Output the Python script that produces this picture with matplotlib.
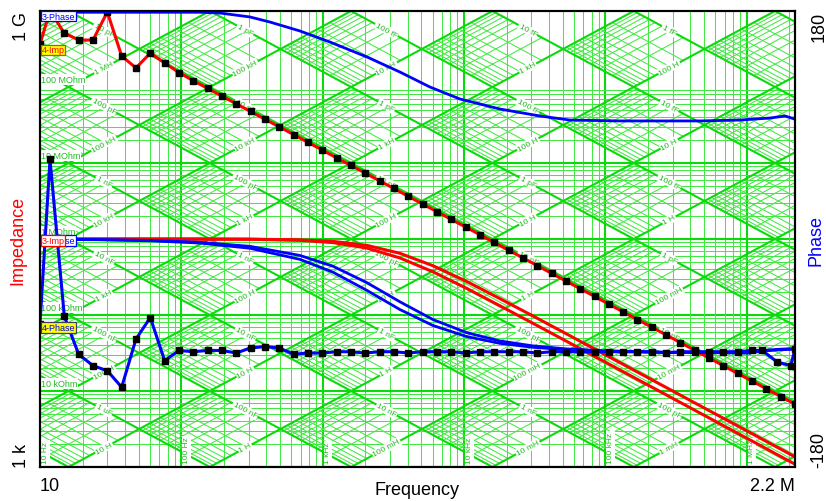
import numpy as np
import matplotlib
matplotlib.use("Agg")
import matplotlib.pyplot as plt
from matplotlib.collections import LineCollection

plt.rcParams['font.family'] = ['Liberation Sans', 'DejaVu Sans']

# ---------------- data ----------------
imp4_freq = [10, 11.77, 14.86, 18.77, 23.71, 29.95, 37.83, 47.77, 60.33, 76.19, 96.23,
             121.5, 153.5, 193.9, 244.8, 309.2, 390.5, 493.2, 622.9, 786.7, 993.6,
             1255, 1585, 2002, 2528, 3193, 4033, 5093, 6433, 8124, 10260,
             12960, 16370, 20670, 26110, 32970, 41640, 52590, 66420, 83890, 105900,
             133800, 169000, 213400, 269500, 340400, 429900, 542900, 685700, 866000, 1094000,
             1381000, 1745000, 2203000]
imp4_ohm = [368e6, 1.0e9, 514e6, 415e6, 415e6, 970e6, 256e6, 178e6, 280e6, 207e6, 155e6,
            121e6, 96e6, 76e6, 60e6, 47.7e6, 37.7e6, 29.9e6, 23.7e6, 18.7e6, 14.8e6,
            11.7e6, 9.3e6, 7.36e6, 5.83e6, 4.62e6, 3.65e6, 2.89e6, 2.29e6, 1.81e6, 1.44e6,
            1.14e6, 900e3, 713e3, 565e3, 447e3, 354e3, 280e3, 222e3, 176e3, 139e3,
            110e3, 87.2e3, 69.1e3, 54.7e3, 43.3e3, 34.3e3, 27.2e3, 21.5e3, 17.0e3, 13.5e3,
            10.7e3, 8.45e3, 6.7e3]

phase4_freq = [10, 11.77, 14.86, 18.77, 23.71, 29.95, 37.83, 47.77, 60.33, 76.19, 96.23,
               121.5, 153.5, 193.9, 244.8, 309.2, 390.5, 493.2, 622.9, 786.7, 993.6,
               1255, 1585, 2002, 2528, 3193, 4033, 5093, 6433, 8124, 10260,
               12960, 16370, 20670, 26110, 32970, 41640, 52590, 66420, 83890, 105900,
               133800, 169000, 213400, 269500, 340400, 429900, 542900, 685700, 866000, 1094000,
               1290000, 1640000, 2050000, 2200000]
phase4_deg = [-67, 63, -61, -91, -100, -104, -117, -79, -62, -96, -88,
              -89, -88, -88, -90, -86, -85, -86, -91, -90, -90,
              -89, -89, -90, -89, -89, -90, -89, -89, -89, -90,
              -89, -89, -89, -89, -90, -89, -89, -89, -89, -89,
              -89, -89, -89, -90, -89, -89, -89, -89, -89, -88,
              -88, -97, -100, -87]

pair_freq = [10, 26.6, 60, 135.5, 306, 692, 1183, 2060, 3524, 6036, 10500, 17990,
             30770, 53550, 91650, 207000, 467700, 1057000, 1285000, 1722000, 2200000]
imp1_ohm = [1.0e6, 1.0e6, 1.0e6, 0.998e6, 0.992e6, 0.961e6, 0.897e6, 0.759e6, 0.563e6,
            0.370e6, 0.223e6, 0.132e6, 77.8e3, 44.8e3, 26.2e3, 11.6e3, 5.13e3, 2.27e3,
            1.87e3, 1.39e3, 1.09e3]
imp3_ohm = [1.0e6, 1.0e6, 1.0e6, 0.999e6, 0.995e6, 0.974e6, 0.930e6, 0.824e6, 0.648e6,
            0.445e6, 0.275e6, 0.164e6, 97.1e3, 56.0e3, 32.7e3, 14.5e3, 6.41e3, 2.84e3,
            2.33e3, 1.74e3, 1.36e3]
phase1_deg = [-0.2, -0.6, -1.4, -3.2, -7.3, -16.1, -26.2, -40.6, -55.7, -68.3, -77.1,
              -82.4, -85.5, -87.4, -88.5, -89.3, -89.7, -89.9, -88.5, -87.5, -87.0]
phase2_deg = [-0.2, -0.5, -1.1, -2.6, -5.8, -13.0, -21.5, -34.5, -49.6, -63.6, -74.0,
              -80.5, -84.4, -86.8, -88.1, -89.2, -89.6, -89.9, -88.0, -87.0, -86.5]

phase3_freq = [10, 60, 135.5, 187.7, 306, 423.6, 692, 1127, 2060, 3524, 5741, 9376,
               17990, 34510, 56230, 127000, 467700, 897000, 1462000, 1866000, 2200000]
phase3_deg = [179, 179, 179, 178.4, 175.3, 171.3, 164.2, 155.5, 143.7, 131.8, 120,
              110.5, 102.6, 97.1, 93.9, 93.2, 93.2, 93.9, 95.5, 97.1, 94.7]

curve_labels = ['3-Phase', '4-Imp', '2-Phase', '3-Imp', '4-Phase']
freq_range = (10, 2.2e6)
imp_range = (1e3, 1e9)
phase_range = (-180, 180)

# ---------------- figure ----------------
W, H = 826, 502
fig = plt.figure(figsize=(W / 100, H / 100), dpi=100)
L0, B0, PW, PH = 40, 34, 755, 456
ax = fig.add_axes([L0 / W, B0 / H, PW / W, PH / H])
ax.set_xscale('log')
ax.set_yscale('log')
ax.set_xlim(*freq_range)
ax.set_ylim(*imp_range)
ax.set_facecolor('white')

GMAJ = '#0ada0a'
GMIN = '#44e844'
GTXT = '#22bb22'
TWO_PI = 2 * np.pi
LTP = np.log10(TWO_PI)

# frequency / impedance grid
for k in range(0, 8):
    for m in range(1, 10):
        v = m * 10.0 ** k
        if freq_range[0] <= v <= freq_range[1]:
            ax.axvline(v, color=GMAJ if m == 1 else GMIN,
                       lw=1.5 if m == 1 else 0.75, zorder=1)
        if imp_range[0] <= v <= imp_range[1]:
            ax.axhline(v, color=GMAJ if m == 1 else GMIN,
                       lw=1.5 if m == 1 else 0.75, zorder=1)

fl = np.array(freq_range)
# major capacitance and inductance diagonals
for e in range(-19, 10):
    if e <= -3:
        ax.plot(fl, 1 / (TWO_PI * fl * 10.0 ** e), color=GMAJ, lw=1.5, zorder=1.5)
    if e >= -6:
        ax.plot(fl, TWO_PI * fl * 10.0 ** e, color=GMAJ, lw=1.5, zorder=1.5)


def cross(logc, logl):
    """frequency and impedance where a C line meets an L line"""
    u = -LTP - (logc + logl) / 2
    v = (logl - logc) / 2
    return 10 ** u, 10 ** v


# minor diagonals, drawn in alternate diamond cells
segs = []
for a in range(-19, -3):
    for b in range(-7, 10):
        if (a + b) % 2 == 0:
            continue
        for m in range(2, 10):
            lm = np.log10(m)
            segs.append([cross(a + lm, b), cross(a + lm, b + 1)])
            segs.append([cross(a, b + lm), cross(a + 1, b + lm)])
ax.add_collection(LineCollection(segs, colors=GMIN, linewidths=0.75, zorder=1.2))
ax.set_xlim(*freq_range)
ax.set_ylim(*imp_range)


def si(v, unit):
    pref = {-18: 'a', -15: 'f', -12: 'p', -9: 'n', -6: 'u', -3: 'm', 0: '', 3: 'k', 6: 'M', 9: 'G'}
    e = int(np.floor(np.log10(v) + 1e-9))
    e3 = 3 * int(np.floor(e / 3))
    return f"{int(round(v / 10.0 ** e3))} {pref[e3]}{unit}"


LOGSPAN = np.log10(freq_range[1] / freq_range[0])


def to_px(u, v):
    return (u - 1) / LOGSPAN * PW, (v - 3) / 6 * PH


def place(u1, v1, u2, v2):
    for t in [0.5, 0.45, 0.55, 0.4, 0.6, 0.35, 0.65, 0.3, 0.7, 0.25, 0.75, 0.2, 0.8, 0.15, 0.85, 0.1, 0.9]:
        u = u1 + t * (u2 - u1)
        v = v1 + t * (v2 - v1)
        x, y = to_px(u, v)
        if 14 <= x <= PW - 14 and 10 <= y <= PH - 12:
            return u, v
    return None


ang = np.degrees(np.arctan((PH / 6) / (PW / LOGSPAN)))
lab_kw = dict(fontsize=6, color=GTXT, ha='center', va='center', rotation_mode='anchor',
              zorder=3, bbox=dict(boxstyle='square,pad=0.1', fc='white', ec='none'))
for a in range(-19, -3):
    for b in range(-7, 10):
        if (a + b) % 2 == 0:
            continue
        uc1, vc1 = -LTP - (a + b) / 2, (b - a) / 2
        uc2, vc2 = -LTP - (a + b + 1) / 2, (b + 1 - a) / 2
        p = place(uc1, vc1, uc2, vc2)
        if p:
            ax.text(10 ** p[0], 10 ** p[1], si(10.0 ** a, 'F'), rotation=-ang, **lab_kw)
        ul2, vl2 = -LTP - (a + 1 + b) / 2, (b - a - 1) / 2
        p = place(uc1, vc1, ul2, vl2)
        if p:
            ax.text(10 ** p[0], 10 ** p[1], si(10.0 ** b, 'H'), rotation=ang, **lab_kw)

# impedance labels
for e in range(4, 9):
    ax.text(10 * 1.02, 10.0 ** e * 1.1, si(10.0 ** e, 'Ohm'), fontsize=6.5, color=GTXT,
            ha='left', va='bottom', zorder=3,
            bbox=dict(boxstyle='square,pad=0.1', fc='white', ec='none'))
# frequency labels
for e in range(1, 7):
    ax.text(10.0 ** e * 1.03, 1.12e3, si(10.0 ** e, 'Hz'), fontsize=6, color=GTXT,
            rotation=90, ha='left', va='bottom', zorder=3,
            bbox=dict(boxstyle='square,pad=0.1', fc='white', ec='none'))

# impedance curves
ax.plot(pair_freq, imp1_ohm, color='#ff0000', lw=2.2, zorder=5)
ax.plot(pair_freq, imp3_ohm, color='#ff0000', lw=2.2, zorder=5)
ax.plot(imp4_freq, imp4_ohm, color='#ff0000', lw=2.2, zorder=6,
        marker='s', ms=5, mfc='black', mec='black')

ax.set_xticks([10, 2.2e6], ['10', '2.2 M'], minor=False)
ax.xaxis.set_minor_locator(matplotlib.ticker.NullLocator())
ax.set_yticks([1e3, 1e9], ['1 k', '1 G'])
ax.yaxis.set_minor_locator(matplotlib.ticker.NullLocator())
ax.tick_params(length=0, labelsize=13, colors='black')
ax.tick_params(axis='x', pad=7)
ax.tick_params(axis='y', pad=7)
xl = ax.get_xticklabels()
xl[0].set_ha('left'); xl[1].set_ha('right')
for lbl, va in zip(ax.get_yticklabels(), ['bottom', 'top']):
    lbl.set_rotation(90); lbl.set_va(va)
ax.set_xlabel('Frequency', fontsize=13, va='center')
ax.xaxis.set_label_coords(0.5, -0.049)
ax.set_ylabel('Impedance', fontsize=13, color='#ff0000', va='center')
ax.yaxis.set_label_coords(-0.029, 0.5)

# phase axis
ax2 = ax.twinx()
ax2.set_ylim(*phase_range)
ax2.plot(pair_freq, phase1_deg, color='#0000ff', lw=2.0, zorder=5)
ax2.plot(pair_freq, phase2_deg, color='#0000ff', lw=2.0, zorder=5)
ax2.plot(phase3_freq, phase3_deg, color='#0000ff', lw=2.0, zorder=5)
ax2.plot(phase4_freq, phase4_deg, color='#0000ff', lw=2.2, zorder=6,
         marker='s', ms=5, mfc='black', mec='black')
ax2.set_yticks([-180, 180], ['-180', '180'])
ax2.tick_params(length=0, labelsize=13, pad=11)
for lbl, va in zip(ax2.get_yticklabels(), ['bottom', 'top']):
    lbl.set_rotation(90); lbl.set_va(va)
ax2.set_ylabel('Phase', fontsize=13, color='#0000ff', va='center')
ax2.yaxis.set_label_coords(1.028, 0.5)

for a_ in (ax, ax2):
    for s in a_.spines.values():
        s.set_color('black'); s.set_linewidth(1.5); s.set_zorder(10)


def tag(y_frac, text, fc, ec, tc):
    ax2.text(0.002, y_frac, text, transform=ax2.transAxes, fontsize=6.5, color=tc,
             ha='left', va='center', zorder=20,
             bbox=dict(boxstyle='square,pad=0.1', fc=fc, ec=ec, lw=0.9))


tag(0.989, curve_labels[0], 'white', '#0000ff', '#0000ff')
tag(0.9145, curve_labels[1], '#ffff00', '#8a7000', '#ff0000')
tag(0.4967, curve_labels[2], 'white', '#0000ff', '#0000ff')
tag(0.4967, curve_labels[3], 'white', '#ff0000', '#ff0000')
tag(0.306, curve_labels[4], '#ffff00', '#404060', '#0000ff')

fig.savefig('out.png', dpi=100)
